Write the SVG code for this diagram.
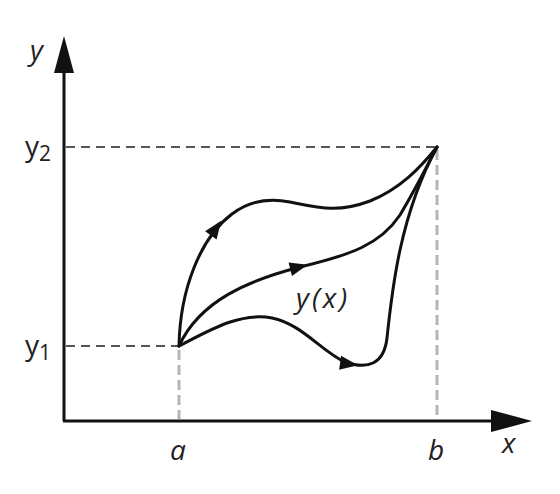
<svg xmlns="http://www.w3.org/2000/svg" width="560" height="494" viewBox="0 0 560 494">
<style>
.axis{stroke:#111;stroke-width:3;fill:none}
.curve{stroke:#111;stroke-width:3;fill:none;stroke-linecap:round}
.dashH{stroke:#555;stroke-width:2;stroke-dasharray:9,6;fill:none}
.dashV{stroke:#b5b5b5;stroke-width:3;stroke-dasharray:10,5;fill:none}
.lbl{font-family:"Open Sans","Liberation Sans",sans-serif;font-size:28px;fill:#222}
.it{font-style:italic}
</style>
<defs>
<path id="ah" d="M9,0 L-9,-7 L-9,7 Z" fill="#111"/>
</defs>
<rect width="560" height="494" fill="#fff"/>
<g id="guides">
<line class="dashH" x1="66" y1="147" x2="437" y2="147"/>
<line class="dashH" x1="66" y1="346" x2="179" y2="346"/>
<line class="dashV" x1="437" y1="150" x2="437" y2="419"/>
<line class="dashV" x1="179" y1="350" x2="179" y2="419"/>
</g>
<g id="axes">
<line class="axis" x1="64" y1="421" x2="64" y2="70"/>
<polygon points="64,36 54,73 74,73" fill="#111"/>
<line class="axis" x1="63" y1="421" x2="495" y2="421"/>
<polygon points="532,421 491,410 491,432" fill="#111"/>
</g>
<g id="connectors">
<path id="c1" class="curve" d="M179,346 C180,290 200,238 232,214 C250,200 270,198 290,202 C320,208 338,213 370,201 C400,189 420,168 437,147"/>
<path id="c2" class="curve" d="M179,346 C200,300 250,280 300,267 C350,255 380,245 400,215 C415,190 425,170 437,147"/>
<path id="c3" class="curve" d="M179,346 C210,330 240,312 272,318 C302,324 322,352 345,362 C368,370 384,364 387,338 C392,290 400,215 437,147"/>
<use href="#ah" transform="translate(216,228) rotate(-55)"/>
<use href="#ah" transform="translate(299,267) rotate(-14)"/>
<use href="#ah" transform="translate(349,364) rotate(8)"/>
</g>
<g id="labels">
<text class="lbl it" x="30" y="60">y</text>
<text class="lbl" x="25" y="156">y<tspan font-size="21" dy="5">2</tspan></text>
<text class="lbl" x="25" y="355">y<tspan font-size="21" dy="5">1</tspan></text>
<text class="lbl it" x="170" y="460">a</text>
<text class="lbl it" x="428" y="460">b</text>
<text class="lbl it" x="502" y="453">x</text>
<text class="lbl it" x="296" y="308" letter-spacing="3">y(x)</text>
</g>
</svg>
